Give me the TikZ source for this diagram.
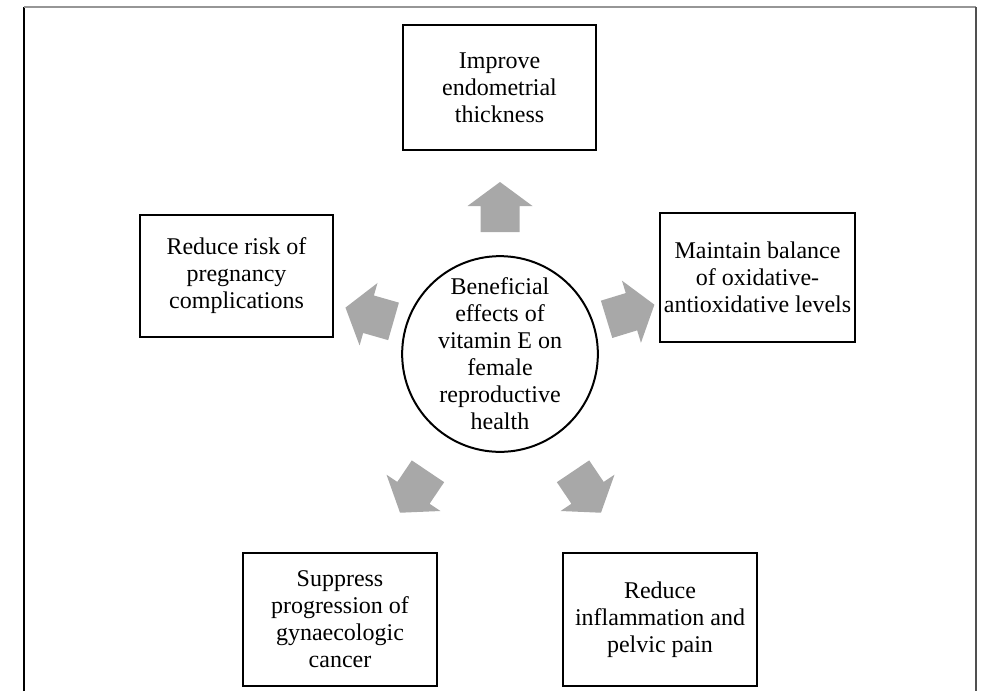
\documentclass[tikz,border=0pt]{standalone}
\usepackage{fontspec}
\setmainfont{Liberation Serif}
\definecolor{arr}{RGB}{168,168,168}
\definecolor{frametop}{RGB}{150,150,150}
\definecolor{frameright}{RGB}{80,80,80}
\tikzset{
  box/.style={draw=black, line width=2pt, align=center, inner sep=0pt,
    font=\fontsize{24}{27}\selectfont},
  hub/.style={draw=black, line width=2pt, circle, align=center, inner sep=0pt,
    font=\fontsize{24}{27}\selectfont},
  fatarrow/.style={fill=arr, draw=none}
}
\newcommand{\fatarr}[3]{%
  \fill[fatarrow, shift={(#1,#2)}, rotate=#3]
    (-25,-19.5) -- (1,-19.5) -- (1,-32.5) -- (25,0) -- (1,32.5) -- (1,19.5) -- (-25,19.5) -- cycle;}
\begin{document}
\begin{tikzpicture}[x=1pt, y=-1pt]
\useasboundingbox (0,0) rectangle (985,691);
% frame
\draw[black, line width=1.5pt] (24,691) -- (24,7);
\draw[frametop, line width=1.5pt] (24,7) -- (976,7);
\draw[frameright, line width=1.5pt] (976,7) -- (976,691);

% centre
\node[hub, minimum size=194pt] (c) at (500,354) {Beneficial\\effects of\\vitamin E on\\female\\reproductive\\health};

% boxes
\node[box, minimum width=193pt, minimum height=125pt] (top) at (499.5,87.5) {Improve\\endometrial\\thickness};
\node[box, minimum width=193pt, minimum height=122pt] (left) at (236.5,276) {Reduce risk of\\pregnancy\\complications};
\node[box, minimum width=195pt, minimum height=129pt] (right) at (757.5,277.5) {Maintain balance\\of oxidative-\\antioxidative levels};
\node[box, minimum width=194pt, minimum height=133pt] (bl) at (340,619.5) {Suppress\\progression of\\gynaecologic\\cancer};
\node[box, minimum width=194pt, minimum height=133pt] (br) at (660,619.5) {Reduce\\inflammation and\\pelvic pain};

% arrows
\fatarr{500}{207}{90}
\fatarr{630.5}{312}{17}
\fatarr{369.5}{314.5}{164}
\fatarr{414}{492}{236}
\fatarr{587}{492}{304}
\end{tikzpicture}
\end{document}
